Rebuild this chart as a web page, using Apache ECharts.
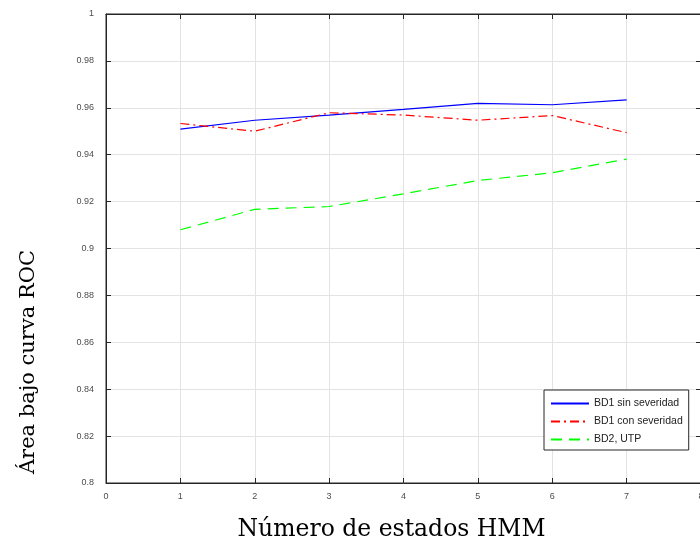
<!DOCTYPE html>
<html>
<head>
<meta charset="utf-8">
<script src="https://cdn.jsdelivr.net/npm/echarts@6/dist/echarts.min.js"></script>
<style>
html,body{margin:0;padding:0;background:#fff;}
#chart{width:700px;height:545px;}
</style>
</head>
<body>
<div id="chart"></div>
<script>
// Data
const states = [1, 2, 3, 4, 5, 6, 7];
const bd1SinSeveridad = [0.9509, 0.9547, 0.9569, 0.9593, 0.9619, 0.9613, 0.9634];
const bd1ConSeveridad = [0.9533, 0.9500, 0.9579, 0.9569, 0.9547, 0.9567, 0.9494];
const bd2Utp = [0.9080, 0.9167, 0.9179, 0.9233, 0.9290, 0.9323, 0.9381];
const seriesNames = ['BD1 sin severidad', 'BD1 con severidad', 'BD2, UTP'];
const xTitle = 'Número de estados HMM';
const yTitle = 'Área bajo curva ROC';

const pairs = (xs, ys) => xs.map((x, i) => [x, ys[i]]);

const chart = echarts.init(document.getElementById('chart'), null, {renderer: 'canvas'});

const tickFont = {color: '#4d4d4d', fontSize: 9, fontFamily: 'Liberation Sans, Arial, sans-serif'};
const axisLineStyle = {color: '#262626', width: 1};
const gridLineStyle = {color: '#e3e3e3', width: 1};

chart.setOption({
  animation: false,
  backgroundColor: '#fff',
  grid: {left: 106, top: 14, width: 595, bottom: 62, outerBoundsMode: 'none', containLabel: false,
    show: true, borderColor: '#262626', borderWidth: 1, backgroundColor: 'transparent'},
  xAxis: [{
    type: 'value', min: 0, max: 8, interval: 1,
    axisLine: {show: true, onZero: false, lineStyle: axisLineStyle},
    axisTick: {show: true, inside: true, length: 5, lineStyle: axisLineStyle},
    axisLabel: Object.assign({margin: 9}, tickFont),
    splitLine: {show: true, lineStyle: gridLineStyle}
  }, {
    type: 'value', min: 0, max: 8, interval: 1, position: 'top',
    axisLine: {show: true, onZero: false, lineStyle: axisLineStyle},
    axisTick: {show: true, inside: true, length: 5, lineStyle: axisLineStyle},
    axisLabel: {show: false}, splitLine: {show: false}
  }],
  yAxis: [{
    type: 'value', min: 0.8, max: 1, interval: 0.02,
    axisLine: {show: true, onZero: false, lineStyle: axisLineStyle},
    axisTick: {show: true, inside: true, length: 5, lineStyle: axisLineStyle},
    axisLabel: Object.assign({margin: 12}, tickFont),
    splitLine: {show: true, lineStyle: gridLineStyle}
  }, {
    type: 'value', min: 0.8, max: 1, interval: 0.02, position: 'right',
    axisLine: {show: true, onZero: false, lineStyle: axisLineStyle},
    axisTick: {show: true, inside: true, length: 5, lineStyle: axisLineStyle},
    axisLabel: {show: false}, splitLine: {show: false}
  }],
  legend: {
    orient: 'vertical', left: 544, top: 390,
    padding: [8, 6, 5, 6], itemGap: 7, itemWidth: 38, itemHeight: 10,
    backgroundColor: '#fff', borderColor: '#262626', borderWidth: 1,
    itemStyle: {opacity: 0},
    textStyle: {fontSize: 10.5, color: '#222', fontFamily: 'Liberation Sans, Arial, sans-serif'},
    data: seriesNames
  },
  graphic: [{
    type: 'text', x: 391.5, y: 530,
    style: {text: xTitle, font: '23.5px "DejaVu Serif", serif', fill: '#000', align: 'center', verticalAlign: 'middle'}
  }, {
    type: 'text', x: 29, y: 362, rotation: Math.PI / 2,
    style: {text: yTitle, font: '21px "DejaVu Serif", serif', fill: '#000', align: 'center', verticalAlign: 'middle'}
  }],
  series: [{
    name: seriesNames[0], type: 'line', data: pairs(states, bd1SinSeveridad),
    symbol: 'none', lineStyle: {color: '#0000ff', width: 1.2, type: 'solid'}, itemStyle: {color: '#0000ff'}
  }, {
    name: seriesNames[1], type: 'line', data: pairs(states, bd1ConSeveridad),
    symbol: 'none', lineStyle: {color: '#ff0000', width: 1.2, type: [9, 4, 2, 4]}, itemStyle: {color: '#ff0000'}
  }, {
    name: seriesNames[2], type: 'line', data: pairs(states, bd2Utp),
    symbol: 'none', lineStyle: {color: '#00ff00', width: 1.2, type: [11, 7]}, itemStyle: {color: '#00ff00'}
  }]
});
</script>
</body>
</html>
